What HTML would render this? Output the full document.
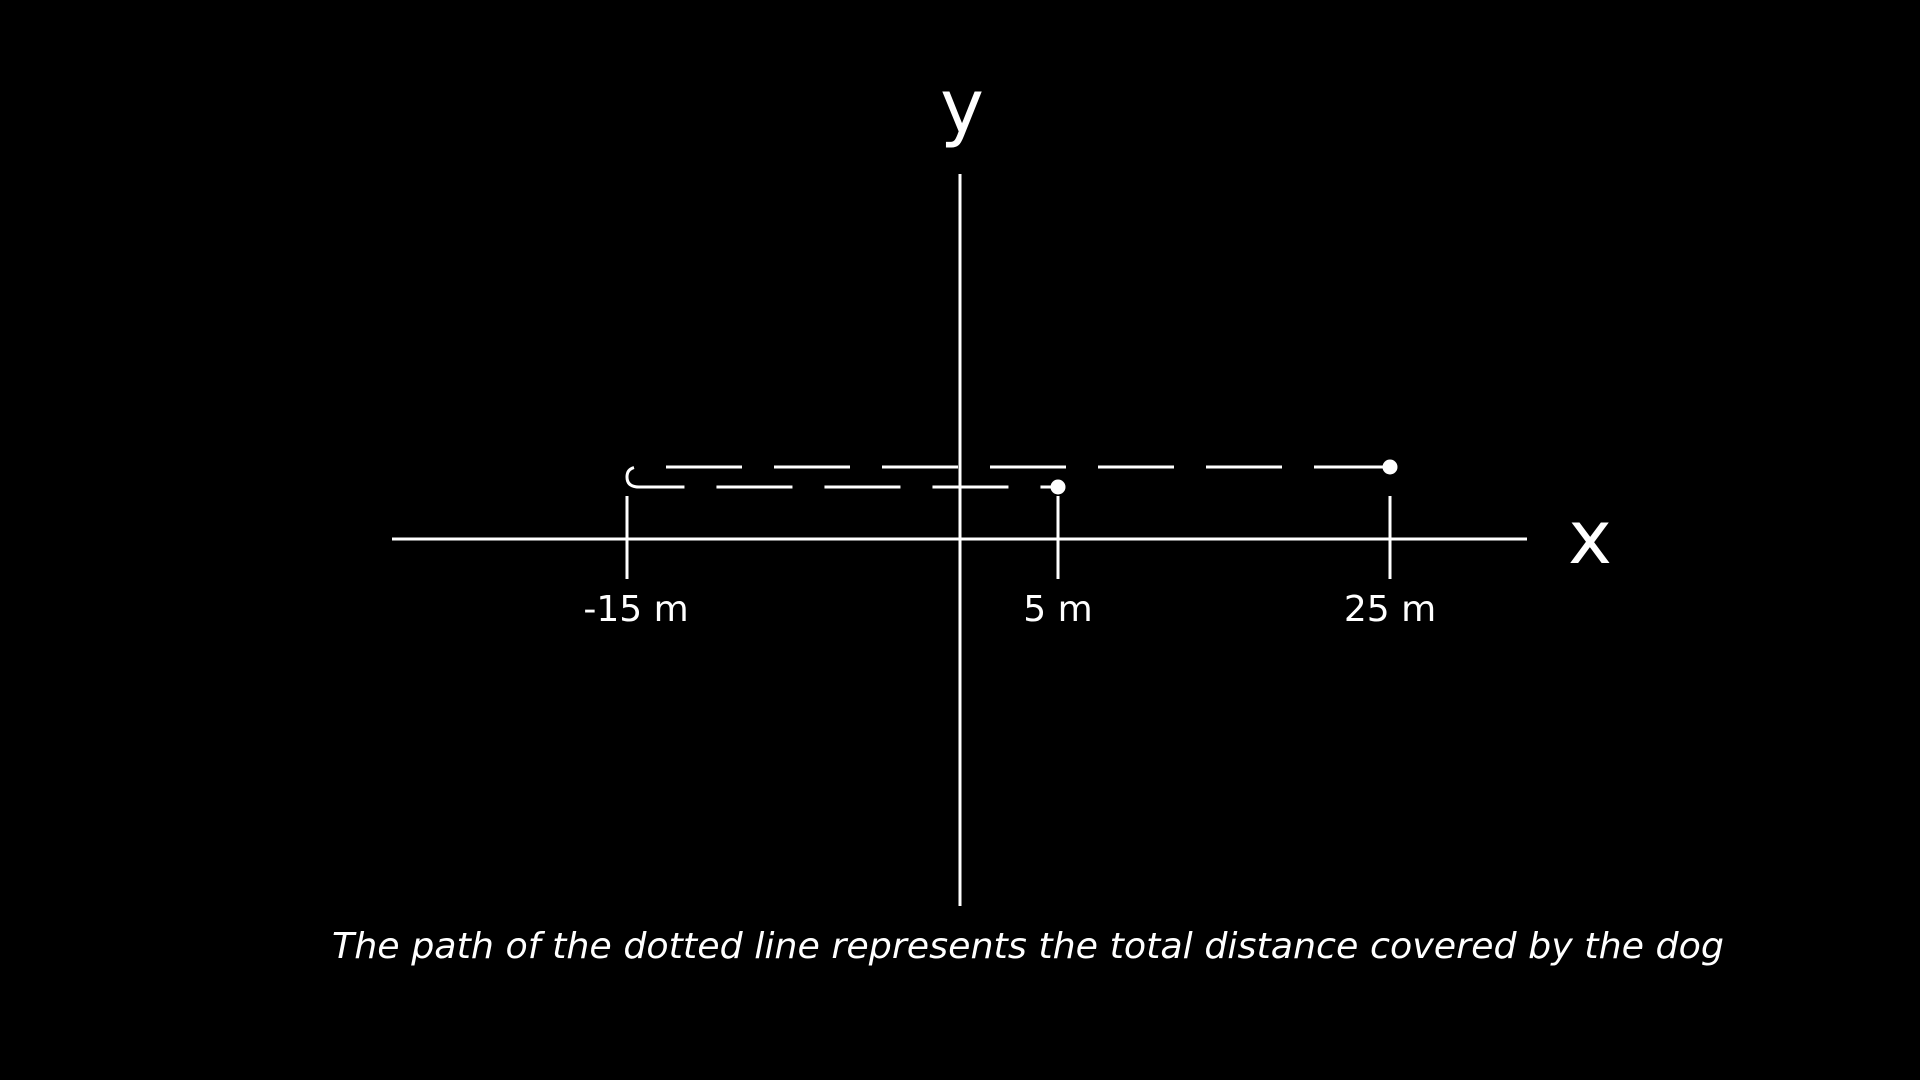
<!DOCTYPE html>
<html><head><meta charset="utf-8"><style>
html,body{margin:0;padding:0;background:#000;width:1920px;height:1080px;overflow:hidden}
svg{display:block}
text{font-family:"DejaVu Sans","Liberation Sans",sans-serif;fill:#fff}
</style></head><body>
<svg id="chart" width="1920" height="1080" viewBox="0 0 1920 1080">
<line x1="392" y1="539" x2="1527" y2="539" stroke="#fff" stroke-width="3"/>
<line x1="960" y1="174" x2="960" y2="906" stroke="#fff" stroke-width="3"/>
<text x="962" y="132" font-size="74" text-anchor="middle">y</text>
<text x="1590" y="563" font-size="74" text-anchor="middle">x</text>
<g id="ticks"></g>
<g id="path"></g>
<text x="1028" y="958" font-size="36" font-style="italic" text-anchor="middle" textLength="1392" lengthAdjust="spacingAndGlyphs">The path of the dotted line represents the total distance covered by the dog</text>
</svg>
<script>
const tickValues = [-15, 5, 25];
const tickLabels = ["-15 m", "5 m", "25 m"];
const startPos = 25;
const turnPos = -15;
const endPos = 5;
// piecewise axis anchors (values -> pixels) matching the reference drawing
const anchorV = [-15, 0, 5, 25];
const anchorP = [627, 960, 1058, 1390];
function xScale(v){
  for(let i=0;i<anchorV.length-1;i++){
    if(v<=anchorV[i+1]||i===anchorV.length-2){
      const t=(v-anchorV[i])/(anchorV[i+1]-anchorV[i]);
      return anchorP[i]+t*(anchorP[i+1]-anchorP[i]);
    }
  }
}
const NS="http://www.w3.org/2000/svg";
const tg=document.getElementById('ticks');
tickValues.forEach((v,i)=>{
  const x=xScale(v);
  const l=document.createElementNS(NS,'line');
  
  
  l.setAttribute('x1',x);l.setAttribute('x2',x);l.setAttribute('y1',496);l.setAttribute('y2',579);
  l.setAttribute('stroke','#fff');l.setAttribute('stroke-width','3');
  tg.appendChild(l);
  const t=document.createElementNS(NS,'text');
  
  
  t.setAttribute('x',x+(v<0?9:0));t.setAttribute('y',621);t.setAttribute('font-size','36');
  t.setAttribute('text-anchor','middle');t.textContent=tickLabels[i];
  tg.appendChild(t);
});
const pg=document.getElementById('path');
const yTop=467, yBot=487;
const xs=xScale(startPos), xt=xScale(turnPos), xe=xScale(endPos);
const p=document.createElementNS(NS,'path');


p.setAttribute('d',`M${xs},${yTop} L${xt+12},${yTop} Q${xt},${yTop} ${xt},${(yTop+yBot)/2} Q${xt},${yBot} ${xt+12},${yBot} L${xe},${yBot}`);
p.setAttribute('fill','none');p.setAttribute('stroke','#fff');p.setAttribute('stroke-width','3');
p.setAttribute('stroke-dasharray','76 32');p.setAttribute('stroke-dashoffset','0');
pg.appendChild(p);
[[xs,yTop,'start-point'],[xe,yBot,'end-point']].forEach(d=>{
  const c=document.createElementNS(NS,'circle');
  
  
  c.setAttribute('cx',d[0]);c.setAttribute('cy',d[1]);c.setAttribute('r',7.5);c.setAttribute('fill','#fff');
  pg.appendChild(c);
});
</script>
</body></html>
